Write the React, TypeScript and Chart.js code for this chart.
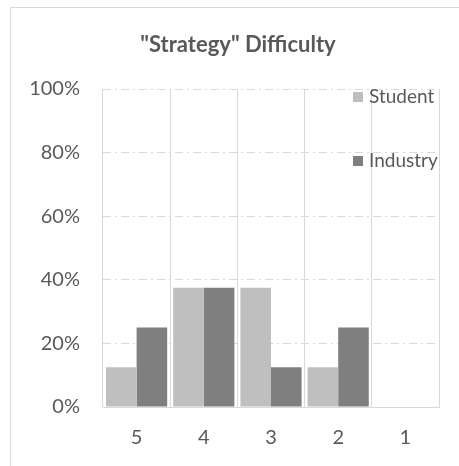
import React, { useEffect, useRef } from "react";
import { Chart, registerables } from "chart.js";

Chart.register(...registerables);

const categories = ["5", "4", "3", "2", "1"];
const studentValues = [12.5, 37.5, 37.5, 12.5, 0];
const industryValues = [25, 37.5, 12.5, 25, 0];
const seriesNames = ["Student", "Industry"];
const seriesColors = ["#BFBFBF", "#7F7F7F"];
const titleText = '"Strategy" Difficulty';

const FONT = "Lato, 'Open Sans', sans-serif";
const TEXT = "#595959";
const GRID = "#D9D9D9";

const overlayPlugin = {
  id: "overlayText",
  afterDraw(chart: any) {
    const { ctx, chartArea } = chart;
    ctx.save();
    // title, centred over the framed chart box
    ctx.font = `bold 22px ${FONT}`;
    ctx.fillStyle = TEXT;
    ctx.textAlign = "center";
    ctx.textBaseline = "middle";
    ctx.fillText(titleText, 238, chartArea.top - 44);
    // legend inside plot area
    ctx.font = `19px ${FONT}`;
    ctx.textAlign = "left";
    seriesNames.forEach((name, i) => {
      const y = chartArea.top + 8 + i * 64;
      const x = chartArea.right - 86;
      ctx.fillStyle = seriesColors[i];
      ctx.fillRect(x, y - 5, 10, 10);
      ctx.fillStyle = TEXT;
      ctx.fillText(name, x + 16, y);
    });
    ctx.restore();
  },
};

export default function App() {
  const ref = useRef<HTMLCanvasElement>(null);
  useEffect(() => {
    if (!ref.current) return;
    const chart = new Chart(ref.current, {
      type: "bar",
      data: {
        labels: categories,
        datasets: [
          {
            label: seriesNames[0],
            data: studentValues,
            backgroundColor: seriesColors[0],
            categoryPercentage: 0.91,
            barPercentage: 1,
          },
          {
            label: seriesNames[1],
            data: industryValues,
            backgroundColor: seriesColors[1],
            categoryPercentage: 0.91,
            barPercentage: 1,
          },
        ],
      },
      options: {
        animation: false,
        responsive: false,
        maintainAspectRatio: false,
        layout: { padding: { left: 0, right: 20, top: 89, bottom: 0 } },
        plugins: {
          legend: { display: false },
          tooltip: { enabled: false },
          title: { display: false },
        },
        scales: {
          x: {
            offset: true,
            grid: { display: true, offset: true, color: GRID, lineWidth: 1, drawTicks: false },
            border: { display: true, color: GRID },
            ticks: { color: TEXT, font: { family: FONT, size: 20 }, padding: 19 },
            afterFit(scale: any) {
              scale.height = 59;
            },
          },
          y: {
            min: 0,
            max: 100,
            grid: { color: GRID, lineWidth: 1, drawTicks: false },
            border: { display: false, dash: [8, 4, 2, 4] },
            ticks: {
              stepSize: 20,
              color: TEXT,
              font: { family: FONT, size: 20 },
              padding: 23,
              callback: (v: any) => `${v}%`,
            },
            afterFit(scale: any) {
              scale.width = 103;
            },
          },
        },
      },
      plugins: [overlayPlugin],
    } as any);
    return () => chart.destroy();
  }, []);

  return (
    <div
      style={{
        position: "fixed",
        left: 0,
        top: 0,
        width: 459,
        height: 466,
        overflow: "hidden",
        background: "#fff",
      }}
    >
      <div
        style={{
          position: "absolute",
          left: 10,
          top: 7,
          width: 480,
          height: 480,
          border: `1px solid ${GRID}`,
        }}
      />
      <canvas ref={ref} width={459} height={466} style={{ position: "absolute", left: 0, top: 0 }} />
    </div>
  );
}
